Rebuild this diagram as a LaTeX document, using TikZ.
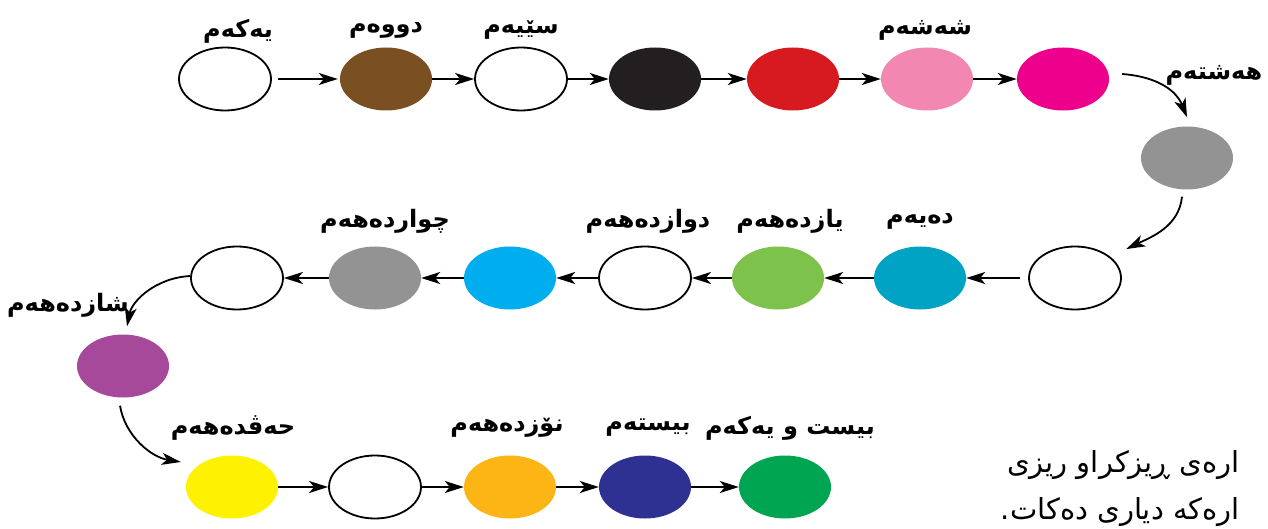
\documentclass[tikz,border=0pt]{standalone}
\usepackage{fontspec}
\newfontfamily\arabicfont[Script=Arabic]{DejaVu Sans}
\newfontfamily\arabicbold[Script=Arabic]{DejaVu Sans Bold}
\TeXXeTstate=1
\usetikzlibrary{shapes.geometric,arrows.meta}
\definecolor{cbrown}{RGB}{122,80,35}
\definecolor{cblack}{RGB}{35,31,32}
\definecolor{cred}{RGB}{215,25,32}
\definecolor{cpink}{RGB}{242,135,177}
\definecolor{cmagenta}{RGB}{236,0,140}
\definecolor{cgray}{RGB}{147,147,147}
\definecolor{cteal}{RGB}{0,163,196}
\definecolor{clgreen}{RGB}{125,194,75}
\definecolor{ccyan}{RGB}{0,174,239}
\definecolor{cpurple}{RGB}{166,73,155}
\definecolor{cyellow}{RGB}{255,242,0}
\definecolor{corange}{RGB}{253,181,21}
\definecolor{cnavy}{RGB}{46,49,146}
\definecolor{cgreen}{RGB}{0,165,81}
\begin{document}
\begin{tikzpicture}[x=1pt,y=-1pt,
  ov/.style={ellipse, minimum width=92pt, minimum height=63pt, inner sep=0pt},
  wov/.style={ov, draw=black, line width=1.8pt, fill=white},
  fov/.style={ov, fill=#1},
  arr/.style={-{Stealth[length=19pt,width=12pt,inset=5pt]}, line width=1.8pt, black},
  lab/.style={font=\arabicbold\fontsize{24}{28}\selectfont, inner sep=0pt},
  big/.style={font=\arabicfont\fontsize{29}{34}\selectfont, inner sep=0pt}]
\useasboundingbox (0,0) rectangle (1268,529);
% row 1
\node[wov] (e1) at (225,79) {};
\node[fov=cbrown] (e2) at (386,79) {};
\node[wov] (e3) at (521,79) {};
\node[fov=cblack] (e4) at (655,79) {};
\node[fov=cred] (e5) at (793,79) {};
\node[fov=cpink] (e6) at (927,79) {};
\node[fov=cmagenta] (e7) at (1063,79) {};
\node[fov=cgray] (e8) at (1187,158) {};
% row 2
\node[wov] (e9) at (1075,278) {};
\node[fov=cteal] (e10) at (920,278) {};
\node[fov=clgreen] (e11) at (778,278) {};
\node[wov] (e12) at (645,278) {};
\node[fov=ccyan] (e13) at (510,278) {};
\node[fov=cgray] (e14) at (375,278) {};
\node[wov] (e15) at (237,278) {};
\node[fov=cpurple] (e16) at (123,366) {};
% row 3
\node[fov=cyellow] (e17) at (232,487) {};
\node[wov] (e18) at (375,487) {};
\node[fov=corange] (e19) at (510,487) {};
\node[fov=cnavy] (e20) at (645,487) {};
\node[fov=cgreen] (e21) at (785,487) {};
% straight arrows
\draw[arr] ([xshift=6pt]e1.east) -- ([xshift=-2pt]e2.west);
\draw[arr] (e2) -- (e3);
\draw[arr] (e3) -- (e4);
\draw[arr] (e4) -- (e5);
\draw[arr] (e5) -- (e6);
\draw[arr] (e6) -- (e7);
\draw[arr] ([xshift=-8pt]e9.west) -- (e10);
\draw[arr] (e10) -- (e11);
\draw[arr] (e11) -- (e12);
\draw[arr] (e12) -- (e13);
\draw[arr] (e13) -- (e14);
\draw[arr] (e14) -- (e15);
\draw[arr] (e17) -- (e18);
\draw[arr] (e18) -- (e19);
\draw[arr] (e19) -- (e20);
\draw[arr] (e20) -- (e21);
% curved arrows
\draw[arr] ([xshift=13pt,yshift=5pt]e7.east) .. controls +(38,3) and +(-10,-25) .. ([xshift=0pt,yshift=9pt]e8.north);
\draw[arr] ([xshift=-5pt,yshift=-7pt]e8.south) .. controls +(-3,30) and +(25,-12) .. ([xshift=18pt,yshift=6pt]e9.north east);
\draw[arr] ([yshift=2pt]e15.west) .. controls +(-35,2) and +(5,-25) .. ([xshift=4pt,yshift=8pt]e16.north);
\draw[arr] ([xshift=-3pt,yshift=-8pt]e16.south) .. controls +(5,30) and +(-30,-5) .. ([xshift=-5pt,yshift=25pt]e17.west);
% labels
\node[lab] (l1) at (238,31) {\beginR یەکەم\endR};
\node[lab] (l2) at (386,30) {\beginR دووەم\endR};
\node[lab] (l3) at (521,30) {\beginR سێیەم\endR};
\node[lab] (l6) at (925,30) {\beginR شەشەم\endR};
\node[lab] (l8) at (1214,75) {\beginR هەشتەم\endR};
\node[lab] (l10) at (920,221) {\beginR دەیەم\endR};
\node[lab] (l11) at (790,221) {\beginR یازدەهەم\endR};
\node[lab] (l12) at (648,221) {\beginR دوازدەهەم\endR};
\node[lab] (l14) at (385,221) {\beginR چواردەهەم\endR};
\node[lab] (l16) at (68,305) {\beginR شازدەهەم\endR};
\node[lab] (l17) at (233,428) {\beginR حەڤدەهەم\endR};
\node[lab] (l19) at (507,428) {\beginR نۆزدەهەم\endR};
\node[lab] (l20) at (648,428) {\beginR بیستەم\endR};
\node[lab] (l21) at (790,428) {\beginR بیست و یەکەم\endR};
% partial text
\node[big, anchor=east] (t1) at (1240,465) {\beginR ارەی ڕیزکراو ریزی\endR};
\node[big, anchor=east] (t2) at (1240,512) {\beginR ارەکە دیاری دەکات.\endR};
\end{tikzpicture}
\end{document}
